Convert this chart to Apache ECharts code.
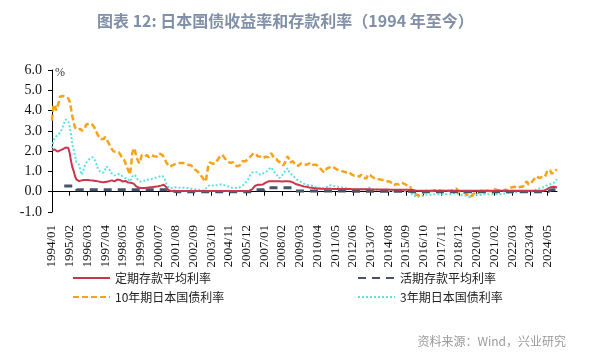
<!DOCTYPE html>
<html>
<head>
<meta charset="utf-8">
<script src="https://cdn.jsdelivr.net/npm/echarts@6/dist/echarts.min.js"></script>
<style>
html,body{margin:0;padding:0;background:#fff;}
#chart{width:594px;height:354px;}
</style>
</head>
<body>
<div id="chart"></div>
<script>
// Categories: monthly, 1994/01 .. 2024/12
const startYear = 1994, endYear = 2024;
const months = [];
for (let y = startYear; y <= endYear; y++) {
  for (let m = 1; m <= 12; m++) months.push(y + '/' + (m < 10 ? '0' + m : m));
}

const seriesNames = ['定期存款平均利率', '活期存款平均利率', '10年期日本国债利率', '3年期日本国债利率'];

// 定期存款平均利率 (%)
const timeDeposit = [
  2.05, 2.1, 2.08, 2.03, 1.98, 2.0, 2.04, 2.06, 2.1, 2.15, 2.18, 2.2,       // 1994
  2.15, 1.9, 1.5, 1.2, 1.0, 0.75, 0.6, 0.51, 0.52, 0.55, 0.56, 0.57,        // 1995
  0.58, 0.59, 0.58, 0.57, 0.56, 0.56, 0.55, 0.54, 0.53, 0.52, 0.51, 0.5,    // 1996
  0.48, 0.46, 0.47, 0.48, 0.49, 0.5, 0.52, 0.55, 0.56, 0.53, 0.51, 0.55,    // 1997
  0.6, 0.62, 0.58, 0.51, 0.5, 0.52, 0.53, 0.5, 0.45, 0.43, 0.44, 0.43,      // 1998
  0.4, 0.34, 0.26, 0.22, 0.19, 0.18, 0.18, 0.18, 0.18, 0.19, 0.2, 0.21,     // 1999
  0.22, 0.23, 0.23, 0.24, 0.25, 0.26, 0.27, 0.28, 0.3, 0.32, 0.34, 0.28,    // 2000
  0.22, 0.12, 0.06, 0.04, 0.04, 0.03, 0.03, 0.03, 0.03, 0.03, 0.03, 0.03,   // 2001
  0.03, 0.03, 0.03, 0.03, 0.03, 0.03, 0.03, 0.03, 0.03, 0.03, 0.03, 0.03,   // 2002
  0.03, 0.03, 0.03, 0.03, 0.03, 0.03, 0.03, 0.03, 0.03, 0.03, 0.03, 0.03,   // 2003
  0.03, 0.03, 0.03, 0.03, 0.03, 0.03, 0.03, 0.03, 0.03, 0.03, 0.03, 0.03,   // 2004
  0.03, 0.03, 0.03, 0.03, 0.03, 0.03, 0.03, 0.03, 0.03, 0.03, 0.03, 0.04,   // 2005
  0.04, 0.05, 0.08, 0.12, 0.2, 0.28, 0.32, 0.34, 0.35, 0.34, 0.35, 0.36,    // 2006
  0.38, 0.45, 0.5, 0.51, 0.5, 0.51, 0.52, 0.52, 0.51, 0.52, 0.51, 0.51,     // 2007
  0.51, 0.5, 0.51, 0.51, 0.5, 0.51, 0.51, 0.5, 0.48, 0.46, 0.42, 0.38,      // 2008
  0.36, 0.34, 0.32, 0.3, 0.28, 0.26, 0.25, 0.24, 0.22, 0.21, 0.2, 0.19,     // 2009
  0.18, 0.17, 0.17, 0.16, 0.16, 0.15, 0.15, 0.15, 0.14, 0.14, 0.14, 0.14,   // 2010
  0.14, 0.14, 0.14, 0.13, 0.13, 0.13, 0.13, 0.13, 0.13, 0.13, 0.13, 0.13,   // 2011
  0.13, 0.13, 0.13, 0.13, 0.13, 0.12, 0.12, 0.12, 0.12, 0.12, 0.12, 0.12,   // 2012
  0.12, 0.12, 0.12, 0.12, 0.12, 0.12, 0.11, 0.11, 0.11, 0.11, 0.11, 0.11,   // 2013
  0.11, 0.11, 0.11, 0.11, 0.11, 0.11, 0.11, 0.11, 0.1, 0.1, 0.1, 0.1,       // 2014
  0.1, 0.1, 0.1, 0.1, 0.1, 0.1, 0.1, 0.1, 0.1, 0.1, 0.09, 0.09,             // 2015
  0.09, 0.08, 0.07, 0.06, 0.05, 0.05, 0.05, 0.05, 0.05, 0.05, 0.05, 0.05,   // 2016
  0.05, 0.05, 0.05, 0.05, 0.05, 0.05, 0.05, 0.05, 0.05, 0.05, 0.05, 0.05,   // 2017
  0.05, 0.05, 0.05, 0.05, 0.05, 0.05, 0.05, 0.05, 0.05, 0.05, 0.05, 0.05,   // 2018
  0.05, 0.05, 0.05, 0.05, 0.05, 0.05, 0.05, 0.05, 0.05, 0.05, 0.05, 0.05,   // 2019
  0.05, 0.05, 0.05, 0.05, 0.05, 0.05, 0.05, 0.05, 0.05, 0.05, 0.05, 0.05,   // 2020
  0.05, 0.05, 0.05, 0.05, 0.05, 0.05, 0.05, 0.05, 0.05, 0.05, 0.05, 0.05,   // 2021
  0.05, 0.05, 0.05, 0.05, 0.05, 0.05, 0.05, 0.05, 0.05, 0.05, 0.05, 0.05,   // 2022
  0.05, 0.05, 0.05, 0.05, 0.05, 0.05, 0.05, 0.05, 0.05, 0.05, 0.05, 0.05,   // 2023
  0.05, 0.05, 0.06, 0.1, 0.15, 0.18, 0.2, 0.23, 0.25, 0.24, 0.22, 0.21      // 2024
];

// 活期存款平均利率 (%)
const demandDeposit = [
  null, null, null, null, null, null, null, null, null, 0.28, 0.28, 0.28,   // 1994
  0.28, 0.28, 0.28, 0.28, 0.28, 0.28, 0.1, 0.1, 0.1, 0.1, 0.1, 0.1,         // 1995
  0.1, 0.1, 0.1, 0.1, 0.1, 0.1, 0.1, 0.1, 0.1, 0.1, 0.1, 0.1,               // 1996
  0.1, 0.1, 0.1, 0.1, 0.1, 0.1, 0.1, 0.1, 0.1, 0.1, 0.1, 0.1,               // 1997
  0.1, 0.1, 0.1, 0.1, 0.1, 0.1, 0.1, 0.1, 0.1, 0.1, 0.1, 0.1,               // 1998
  0.1, 0.1, 0.1, 0.1, 0.1, 0.1, 0.1, 0.1, 0.1, 0.1, 0.1, 0.1,               // 1999
  0.1, 0.1, 0.1, 0.1, 0.1, 0.1, 0.1, 0.1, 0.1, 0.1, 0.1, 0.1,               // 2000
  0.1, 0.1, 0.02, 0.02, 0.02, 0.02, 0.02, 0.02, 0.001, 0.001, 0.001, 0.001, // 2001
  0.001, 0.001, 0.001, 0.001, 0.001, 0.001, 0.001, 0.001, 0.001, 0.001, 0.001, 0.001, // 2002
  0.001, 0.001, 0.001, 0.001, 0.001, 0.001, 0.001, 0.001, 0.001, 0.001, 0.001, 0.001, // 2003
  0.001, 0.001, 0.001, 0.001, 0.001, 0.001, 0.001, 0.001, 0.001, 0.001, 0.001, 0.001, // 2004
  0.001, 0.001, 0.001, 0.001, 0.001, 0.001, 0.001, 0.001, 0.001, 0.001, 0.001, 0.001, // 2005
  0.001, 0.001, 0.001, 0.001, 0.001, 0.001, 0.1, 0.1, 0.1, 0.1, 0.1, 0.1,   // 2006
  0.1, 0.2, 0.2, 0.2, 0.2, 0.2, 0.2, 0.2, 0.2, 0.2, 0.2, 0.2,               // 2007
  0.2, 0.2, 0.2, 0.2, 0.2, 0.2, 0.2, 0.2, 0.2, 0.2, 0.12, 0.04,             // 2008
  0.04, 0.04, 0.04, 0.04, 0.04, 0.04, 0.04, 0.04, 0.04, 0.04, 0.04, 0.04,   // 2009
  0.04, 0.04, 0.04, 0.04, 0.04, 0.04, 0.04, 0.04, 0.04, 0.04, 0.04, 0.04,   // 2010
  0.04, 0.04, 0.04, 0.04, 0.04, 0.04, 0.04, 0.04, 0.04, 0.04, 0.04, 0.04,   // 2011
  0.02, 0.02, 0.02, 0.02, 0.02, 0.02, 0.02, 0.02, 0.02, 0.02, 0.02, 0.02,   // 2012
  0.02, 0.02, 0.02, 0.02, 0.02, 0.02, 0.02, 0.02, 0.02, 0.02, 0.02, 0.02,   // 2013
  0.02, 0.02, 0.02, 0.02, 0.02, 0.02, 0.02, 0.02, 0.02, 0.02, 0.02, 0.02,   // 2014
  0.02, 0.02, 0.02, 0.02, 0.02, 0.02, 0.02, 0.02, 0.02, 0.02, 0.02, 0.02,   // 2015
  0.02, 0.001, 0.001, 0.001, 0.001, 0.001, 0.001, 0.001, 0.001, 0.001, 0.001, 0.001, // 2016
  0.001, 0.001, 0.001, 0.001, 0.001, 0.001, 0.001, 0.001, 0.001, 0.001, 0.001, 0.001, // 2017
  0.001, 0.001, 0.001, 0.001, 0.001, 0.001, 0.001, 0.001, 0.001, 0.001, 0.001, 0.001, // 2018
  0.001, 0.001, 0.001, 0.001, 0.001, 0.001, 0.001, 0.001, 0.001, 0.001, 0.001, 0.001, // 2019
  0.001, 0.001, 0.001, 0.001, 0.001, 0.001, 0.001, 0.001, 0.001, 0.001, 0.001, 0.001, // 2020
  0.001, 0.001, 0.001, 0.001, 0.001, 0.001, 0.001, 0.001, 0.001, 0.001, 0.001, 0.001, // 2021
  0.001, 0.001, 0.001, 0.001, 0.001, 0.001, 0.001, 0.001, 0.001, 0.001, 0.001, 0.001, // 2022
  0.001, 0.001, 0.001, 0.001, 0.001, 0.001, 0.001, 0.001, 0.001, 0.001, 0.001, 0.001, // 2023
  0.001, 0.001, 0.02, 0.02, 0.02, 0.02, 0.02, 0.1, 0.1, 0.1, 0.1, 0.1       // 2024
];

// 10年期日本国债利率 (%)
const jgb10y = [
  3.5, 4.2, 4.3, 4.0, 4.2, 4.4, 4.7, 4.75, 4.72, 4.7, 4.65, 4.7,            // 1994
  4.6, 4.45, 4.1, 3.7, 3.4, 3.15, 3.1, 3.05, 3.0, 3.1, 3.0, 2.95,           // 1995
  3.1, 3.3, 3.3, 3.35, 3.4, 3.35, 3.3, 3.2, 3.0, 2.9, 2.75, 2.7,            // 1996
  2.6, 2.55, 2.6, 2.7, 2.6, 2.47, 2.35, 2.2, 2.1, 2.0, 2.0, 1.95,           // 1997
  1.98, 1.95, 1.85, 1.73, 1.65, 1.57, 1.4, 1.2, 1.08, 0.84, 1.2, 1.9,       // 1998
  2.15, 2.0, 1.7, 1.55, 1.4, 1.57, 1.82, 1.85, 1.75, 1.73, 1.8, 1.7,        // 1999
  1.75, 1.8, 1.78, 1.75, 1.72, 1.73, 1.8, 1.88, 1.9, 1.82, 1.72, 1.65,      // 2000
  1.45, 1.4, 1.24, 1.2, 1.28, 1.33, 1.35, 1.38, 1.4, 1.4, 1.42, 1.44,       // 2001
  1.42, 1.44, 1.4, 1.38, 1.33, 1.3, 1.3, 1.24, 1.2, 1.1, 1.05, 1.0,         // 2002
  0.9, 0.84, 0.75, 0.65, 0.59, 0.5, 0.95, 1.33, 1.45, 1.4, 1.38, 1.4,       // 2003
  1.4, 1.5, 1.57, 1.7, 1.78, 1.82, 1.73, 1.65, 1.58, 1.49, 1.45, 1.42,      // 2004
  1.4, 1.45, 1.35, 1.3, 1.25, 1.2, 1.3, 1.4, 1.5, 1.55, 1.5, 1.55,          // 2005
  1.6, 1.65, 1.75, 1.82, 1.9, 1.88, 1.85, 1.75, 1.7, 1.73, 1.7, 1.65,       // 2006
  1.68, 1.73, 1.65, 1.7, 1.8, 1.9, 1.8, 1.65, 1.65, 1.6, 1.5, 1.5,          // 2007
  1.45, 1.4, 1.3, 1.4, 1.6, 1.75, 1.62, 1.45, 1.48, 1.5, 1.4, 1.3,          // 2008
  1.3, 1.28, 1.33, 1.4, 1.45, 1.35, 1.4, 1.33, 1.3, 1.4, 1.3, 1.3,          // 2009
  1.33, 1.32, 1.33, 1.28, 1.24, 1.16, 1.08, 1.0, 0.95, 0.95, 1.15, 1.15,    // 2010
  1.2, 1.28, 1.25, 1.2, 1.15, 1.12, 1.08, 1.04, 1.02, 1.0, 1.0, 0.98,       // 2011
  0.95, 0.92, 0.98, 0.9, 0.85, 0.82, 0.79, 0.8, 0.8, 0.8, 0.74, 0.84,       // 2012
  0.75, 0.68, 0.6, 0.65, 0.84, 0.85, 0.8, 0.76, 0.7, 0.62, 0.62, 0.67,      // 2013
  0.62, 0.6, 0.59, 0.6, 0.57, 0.54, 0.51, 0.49, 0.5, 0.46, 0.42, 0.32,      // 2014
  0.28, 0.38, 0.43, 0.36, 0.4, 0.45, 0.42, 0.38, 0.35, 0.31, 0.3, 0.27,     // 2015
  0.1, -0.06, -0.05, -0.1, -0.12, -0.2, -0.18, -0.07, -0.07, -0.05, 0.02, 0.05, // 2016
  0.08, 0.06, 0.07, 0.02, 0.05, 0.08, 0.07, 0.02, 0.05, 0.06, 0.04, 0.04,   // 2017
  0.07, 0.05, 0.05, 0.05, 0.04, 0.04, 0.06, 0.1, 0.13, 0.16, 0.1, 0.0,      // 2018
  0.0, -0.05, -0.09, -0.05, -0.1, -0.15, -0.16, -0.27, -0.2, -0.15, -0.07, -0.03, // 2019
  0.02, -0.05, 0.02, 0.05, 0.0, 0.03, 0.02, 0.05, 0.02, 0.03, 0.02, 0.02,   // 2020
  0.05, 0.12, 0.1, 0.09, 0.08, 0.06, 0.02, 0.02, 0.07, 0.1, 0.07, 0.07,     // 2021
  0.17, 0.2, 0.22, 0.23, 0.24, 0.23, 0.18, 0.22, 0.24, 0.25, 0.25, 0.42,    // 2022
  0.5, 0.5, 0.35, 0.39, 0.43, 0.4, 0.6, 0.65, 0.76, 0.84, 0.67, 0.61,       // 2023
  0.73, 0.71, 0.73, 0.87, 1.07, 1.05, 1.05, 0.9, 0.86, 0.94, 1.05, 1.1      // 2024
];

// 3年期日本国债利率 (%)
const jgb3y = [
  2.15, 2.5, 2.64, 2.7, 2.8, 2.85, 2.9, 2.96, 3.2, 3.4, 3.57, 3.65,         // 1994
  3.45, 3.2, 2.8, 2.3, 2.06, 1.73, 1.45, 1.4, 1.33, 1.0, 0.84, 1.05,        // 1995
  1.25, 1.4, 1.5, 1.57, 1.65, 1.73, 1.7, 1.6, 1.49, 1.3, 1.08, 1.0,         // 1996
  0.95, 0.92, 0.95, 1.08, 1.25, 1.33, 1.1, 1.0, 0.9, 0.84, 0.8, 0.84,       // 1997
  0.88, 0.92, 0.85, 0.8, 0.75, 0.7, 0.67, 0.6, 0.62, 0.5, 0.6, 0.75,        // 1998
  0.8, 0.84, 0.7, 0.59, 0.55, 0.5, 0.55, 0.51, 0.55, 0.6, 0.57, 0.59,       // 1999
  0.6, 0.62, 0.63, 0.67, 0.65, 0.7, 0.72, 0.75, 0.84, 0.8, 0.7, 0.59,       // 2000
  0.4, 0.3, 0.18, 0.2, 0.18, 0.2, 0.23, 0.2, 0.2, 0.22, 0.2, 0.21,          // 2001
  0.2, 0.21, 0.2, 0.18, 0.17, 0.16, 0.15, 0.13, 0.13, 0.12, 0.12, 0.1,      // 2002
  0.1, 0.1, 0.08, 0.07, 0.06, 0.06, 0.22, 0.3, 0.34, 0.3, 0.3, 0.3,         // 2003
  0.32, 0.3, 0.32, 0.34, 0.36, 0.38, 0.34, 0.3, 0.28, 0.26, 0.26, 0.26,     // 2004
  0.2, 0.18, 0.2, 0.18, 0.18, 0.2, 0.22, 0.3, 0.3, 0.35, 0.43, 0.5,         // 2005
  0.6, 0.75, 0.85, 0.95, 1.0, 0.97, 0.95, 0.95, 0.9, 0.84, 0.88, 0.9,       // 2006
  0.92, 0.95, 1.0, 1.1, 1.16, 1.2, 1.1, 1.0, 0.92, 0.84, 0.75, 0.67,        // 2007
  0.7, 0.8, 0.92, 0.95, 1.05, 1.16, 1.0, 0.9, 0.85, 0.8, 0.75, 0.65,        // 2008
  0.6, 0.55, 0.5, 0.47, 0.43, 0.4, 0.36, 0.34, 0.33, 0.32, 0.3, 0.3,        // 2009
  0.28, 0.25, 0.22, 0.2, 0.18, 0.18, 0.17, 0.15, 0.15, 0.18, 0.25, 0.3,     // 2010
  0.3, 0.32, 0.28, 0.28, 0.26, 0.25, 0.24, 0.22, 0.21, 0.21, 0.2, 0.2,      // 2011
  0.16, 0.15, 0.15, 0.14, 0.13, 0.13, 0.12, 0.12, 0.12, 0.12, 0.12, 0.12,   // 2012
  0.12, 0.1, 0.1, 0.12, 0.18, 0.2, 0.16, 0.13, 0.12, 0.11, 0.1, 0.1,        // 2013
  0.1, 0.09, 0.08, 0.08, 0.07, 0.07, 0.06, 0.05, 0.06, 0.05, 0.03, 0.02,    // 2014
  0.02, 0.03, 0.02, 0.02, 0.02, 0.02, 0.02, 0.02, 0.01, 0.01, 0.0, 0.0,     // 2015
  -0.05, -0.18, -0.23, -0.22, -0.23, -0.25, -0.26, -0.2, -0.22, -0.2, -0.15, -0.14, // 2016
  -0.13, -0.14, -0.13, -0.16, -0.15, -0.12, -0.11, -0.13, -0.13, -0.12, -0.13, -0.12, // 2017
  -0.12, -0.11, -0.12, -0.11, -0.12, -0.13, -0.1, -0.07, -0.07, -0.08, -0.1, -0.12,  // 2018
  -0.15, -0.17, -0.18, -0.17, -0.18, -0.22, -0.22, -0.27, -0.25, -0.2, -0.15, -0.13, // 2019
  -0.14, -0.15, -0.13, -0.16, -0.14, -0.12, -0.13, -0.12, -0.12, -0.13, -0.12, -0.13, // 2020
  -0.12, -0.11, -0.12, -0.12, -0.12, -0.12, -0.12, -0.11, -0.1, -0.08, -0.07, -0.07, // 2021
  -0.05, -0.04, -0.03, -0.03, -0.04, -0.03, -0.03, -0.03, -0.02, -0.01, 0.0, 0.02,   // 2022
  0.02, 0.03, 0.0, -0.02, 0.02, 0.02, 0.05, 0.08, 0.1, 0.15, 0.17, 0.18,    // 2023
  0.2, 0.22, 0.26, 0.3, 0.36, 0.34, 0.38, 0.4, 0.43, 0.45, 0.55, 0.62       // 2024
];

// Axis ticks
const yMin = -1, yMax = 6, yStep = 1;

const chart = echarts.init(document.getElementById('chart'), null, {renderer: 'canvas'});
const serif = '"Liberation Serif", "Times New Roman", serif';
const cjk = '"Noto Sans CJK SC", "Noto Sans", sans-serif';

function legendFor(name, left, top) {
  return {
    left: left, top: top, orient: 'horizontal', padding: 0,
    itemWidth: 37, itemHeight: 12,
    data: [name],
    textStyle: {fontFamily: cjk, fontSize: 12, lineHeight: 12, color: '#222'},
    itemStyle: {color: 'rgba(0,0,0,0)', borderColor: 'rgba(0,0,0,0)', borderWidth: 0}
  };
}

chart.setOption({
  backgroundColor: '#ffffff',
  animation: false,
  title: {
    text: '图表 12: 日本国债收益率和存款利率（1994 年至今）',
    left: 92, top: 8,
    textStyle: {fontFamily: cjk, fontSize: 16, fontWeight: 'bold', color: '#8190a8'}
  },
  graphic: [
    {type: 'text', left: 55, top: 67, style: {text: '%', font: '12px ' + serif, fill: '#333'}},
    {type: 'text', right: 28, top: 335, style: {text: '资料来源：Wind，兴业研究', font: '12px ' + cjk, fill: '#9a9a9a'}}
  ],
  legend: [
    legendFor(seriesNames[0], 72, 272),
    legendFor(seriesNames[1], 357, 272),
    legendFor(seriesNames[2], 72, 291),
    legendFor(seriesNames[3], 357, 291)
  ],
  grid: {left: 52, right: 37, top: 70, bottom: 142, containLabel: false},
  xAxis: {
    type: 'category',
    data: months,
    boundaryGap: false,
    axisLine: {onZero: true, lineStyle: {color: '#000', width: 1}},
    axisTick: {show: true, interval: 12, length: 4, lineStyle: {color: '#000'}},
    axisLabel: {interval: 12, rotate: 90, margin: 13, fontFamily: serif, fontSize: 13, color: '#111'},
    splitLine: {show: false}
  },
  yAxis: {
    type: 'value',
    min: yMin, max: yMax, interval: yStep,
    axisLine: {show: true, lineStyle: {color: '#000', width: 1}},
    axisTick: {show: true, length: 4, lineStyle: {color: '#000'}},
    axisLabel: {margin: 10, fontFamily: serif, fontSize: 14, color: '#111', formatter: v => v.toFixed(1)},
    splitLine: {show: false}
  },
  series: [
    {
      name: seriesNames[3], type: 'line', data: jgb3y, symbol: 'none', showSymbol: false,
      lineStyle: {color: '#5fe0e2', width: 2, type: [2, 2]}, itemStyle: {color: '#5fe0e2'}, z: 2
    },
    {
      name: seriesNames[2], type: 'line', data: jgb10y, symbol: 'none', showSymbol: false,
      lineStyle: {color: '#f7a21b', width: 2.5, type: [6, 3]}, itemStyle: {color: '#f7a21b'}, z: 3
    },
    {
      name: seriesNames[1], type: 'line', data: demandDeposit, symbol: 'none', showSymbol: false,
      lineStyle: {color: '#44546a', width: 3, type: [8, 6]}, itemStyle: {color: '#44546a'}, z: 4
    },
    {
      name: seriesNames[0], type: 'line', data: timeDeposit, symbol: 'none', showSymbol: false,
      lineStyle: {color: '#c9364a', width: 2}, itemStyle: {color: '#c9364a'}, z: 5
    }
  ]
});
</script>
</body>
</html>
